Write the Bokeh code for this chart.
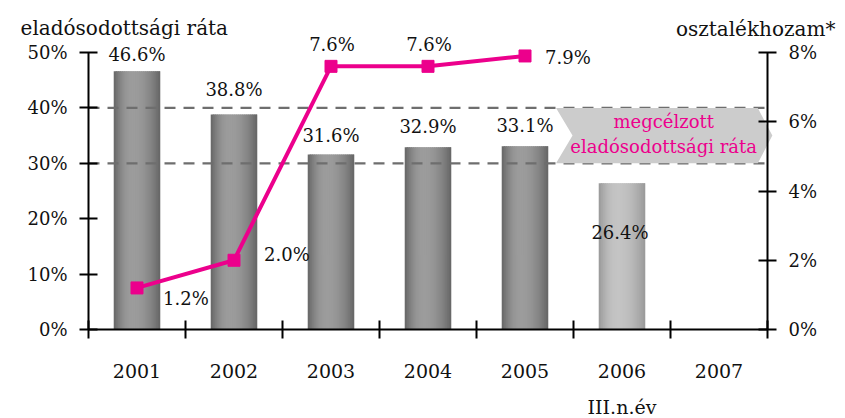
import numpy as np
from bokeh.plotting import figure
from bokeh.models import (Range1d, LinearAxis, FixedTicker, Label, LabelSet,
                          ColumnDataSource)
from bokeh.core.properties import value
from bokeh.embed import file_html
from bokeh.resources import INLINE

# ---------------- data ----------------
years = ["2001", "2002", "2003", "2004", "2005", "2006", "2007"]
sub_label_2006 = "III.n.év"
debt_ratio = [46.6, 38.8, 31.6, 32.9, 33.1, 26.4]          # 2001-2006, %
debt_labels = ["46.6%", "38.8%", "31.6%", "32.9%", "33.1%", "26.4%"]
dividend_yield = [1.2, 2.0, 7.6, 7.6, 7.9]                  # 2001-2005, %
dividend_labels = ["1.2%", "2.0%", "7.6%", "7.6%", "7.9%"]
target_band = [30, 40]                                      # target debt ratio band, %
left_ticks = [0, 10, 20, 30, 40, 50]
right_ticks = [0, 2, 4, 6, 8]
left_title = "eladósodottsági ráta"
right_title = "osztalékhozam*"
target_text = "megcélzott\neladósodottsági ráta"

# ---------------- styles / layout ----------------
FONT = "DejaVu Serif"
MAG = "#ec008c"
TXT = "#111111"
W, H = 845, 418
LEFT_MAX = 50.0
RIGHT_MAX = 8.0
# pixel geometry of the plotting area inside the canvas
AX_L, AX_R, AX_T, AX_B = 88, 767, 52, 329
n = len(years)
px_x = (AX_R - AX_L) / n
px_y = (AX_B - AX_T) / LEFT_MAX
x_lo, x_hi = -AX_L / px_x, (W - AX_L) / px_x
y_lo, y_hi = -(H - AX_B) / px_y, AX_B / px_y
k_r = RIGHT_MAX / LEFT_MAX

p = figure(width=W, height=H, output_backend="svg", toolbar_location=None,
           x_range=Range1d(x_lo, x_hi), y_range=Range1d(y_lo, y_hi),
           min_border=0, x_axis_location=None, y_axis_location=None)
p.extra_y_ranges = {"div": Range1d(y_lo * k_r, y_hi * k_r)}
p.outline_line_color = None
p.xgrid.visible = False
p.ygrid.visible = False
p.background_fill_color = "white"
p.border_fill_color = "white"

centers = [i + 0.5 for i in range(n)]

# ---------------- bars with simulated cylinder gradient ----------------
BAR_W = 0.48
N = 24
def shade(t, edge, peak):
    d = (t - 0.4) / 0.4 if t < 0.4 else (t - 0.4) / 0.6
    return edge + (peak - edge) * (1 - d * d)

xs, tops, cols, ws = [], [], [], []
for i, v in enumerate(debt_ratio):
    light = (i == 5)
    edge, peak = (152, 196) if light else (100, 156)
    sw = BAR_W / N
    for k in range(N):
        t = (k + 0.5) / N
        g = int(round(shade(t, edge, peak)))
        left = centers[i] - BAR_W / 2 + k * sw
        right = left + (sw * 1.8 if k < N - 1 else sw)
        xs.append((left + right) / 2)
        ws.append(right - left)
        tops.append(v)
        cols.append("#%02x%02x%02x" % (g, g, g))
p.vbar(x=xs, top=tops, width=ws, bottom=0, color=cols, line_color=None)

# ---------------- target band dashed lines ----------------
for yv in target_band:
    p.segment(x0=0, x1=n, y0=yv, y1=yv, line_color="#6e6e6e",
              line_width=2.2, line_dash="11 8")

# ---------------- arrow box ----------------
x0, xn, x1, xt = 4.82, 4.99, 6.90, 7.05
ylo, yhi = target_band
ymid = (ylo + yhi) / 2
p.patch(x=[x0, x1, xt, x1, x0, xn], y=[yhi, yhi, ymid, ylo, ylo, ymid],
        fill_color="#cccccc", line_color=None)
p.add_layout(Label(x=5.93, y=ymid, text=target_text, text_align="center",
                   text_baseline="middle", text_font=FONT, text_font_size="18px",
                   text_color=MAG, text_line_height=1.2, y_offset=2))

# ---------------- dividend line ----------------
p.line(x=centers[:len(dividend_yield)], y=dividend_yield, y_range_name="div",
       line_color=MAG, line_width=4)
p.scatter(x=centers[:len(dividend_yield)], y=dividend_yield, y_range_name="div",
          marker="square", size=12, fill_color=MAG, line_color=MAG)

# ---------------- data labels ----------------
bar_src = ColumnDataSource(dict(x=centers[:len(debt_ratio)], y=debt_ratio, text=debt_labels,
                                yo=[10, 19, 12, 14, 14, -56], xo=[0, 0, 0, 0, 0, -2]))
p.add_layout(LabelSet(x="x", y="y", text="text", source=bar_src, x_offset="xo", y_offset="yo",
                      text_align="center", text_baseline="alphabetic",
                      text_font=value(FONT), text_font_size=value("18px"), text_color=TXT))

div_center = ColumnDataSource(dict(x=centers[2:4], y=dividend_yield[2:4], text=dividend_labels[2:4]))
p.add_layout(LabelSet(x="x", y="y", text="text", source=div_center, y_range_name="div",
                      x_offset=1, y_offset=15, text_align="center", text_baseline="alphabetic",
                      text_font=value(FONT), text_font_size=value("18px"), text_color=TXT))
div_left = ColumnDataSource(dict(x=[centers[0], centers[1], centers[4]],
                                 y=[dividend_yield[0], dividend_yield[1], dividend_yield[4]],
                                 text=[dividend_labels[0], dividend_labels[1], dividend_labels[4]],
                                 xo=[26, 30, 20], yo=[-17, -1, -8]))
p.add_layout(LabelSet(x="x", y="y", text="text", source=div_left, y_range_name="div",
                      x_offset="xo", y_offset="yo", text_align="left", text_baseline="alphabetic",
                      text_font=value(FONT), text_font_size=value("18px"), text_color=TXT))

# ---------------- axes ----------------
def style_axis(ax):
    ax.axis_line_color = "black"
    ax.axis_line_width = 2
    ax.major_tick_line_color = "black"
    ax.major_tick_line_width = 2
    ax.minor_tick_line_color = "black"
    ax.minor_tick_line_width = 2
    ax.major_label_text_font = FONT
    ax.major_label_text_font_size = "18px"
    ax.major_label_text_color = TXT

ya = LinearAxis(ticker=FixedTicker(ticks=left_ticks, minor_ticks=[]), fixed_location=0,
                bounds=(0, LEFT_MAX))
ya.major_label_overrides = {t: f"{t}%" for t in left_ticks}
style_axis(ya)
ya.major_tick_in = 9
ya.major_tick_out = 9
ya.major_label_standoff = 12
p.add_layout(ya, "left")

ra = LinearAxis(y_range_name="div", ticker=FixedTicker(ticks=right_ticks, minor_ticks=[]),
                fixed_location=n, bounds=(0, RIGHT_MAX))
ra.major_label_overrides = {t: f"{t}%" for t in right_ticks}
style_axis(ra)
ra.major_tick_in = 9
ra.major_tick_out = 9
ra.major_label_standoff = 12
p.add_layout(ra, "right")

xa = LinearAxis(ticker=FixedTicker(ticks=centers, minor_ticks=list(range(n + 1))),
                fixed_location=0, bounds=(0, n))
xa.major_label_overrides = {c: y for c, y in zip(centers, years)}
style_axis(xa)
xa.major_label_text_font_size = "19px"
xa.major_tick_in = 0
xa.major_tick_out = 0
xa.minor_tick_in = 9
xa.minor_tick_out = 9
xa.major_label_standoff = 25
p.add_layout(xa, "below")

p.add_layout(Label(x=centers[5], y=-14.0, text=sub_label_2006, text_align="center",
                   text_baseline="alphabetic", text_font=FONT, text_font_size="19px",
                   text_color=TXT))

# ---------------- axis titles ----------------
p.add_layout(Label(x=-0.70, y=54.4, text=left_title, text_align="left",
                   text_baseline="alphabetic", text_font=FONT, text_font_size="20px",
                   text_color=TXT))
p.add_layout(Label(x=7.70, y=54.3, text=right_title, text_align="right",
                   text_baseline="alphabetic", text_font=FONT, text_font_size="20px",
                   text_color=TXT))

open("out.html", "w").write(file_html(p, INLINE))
